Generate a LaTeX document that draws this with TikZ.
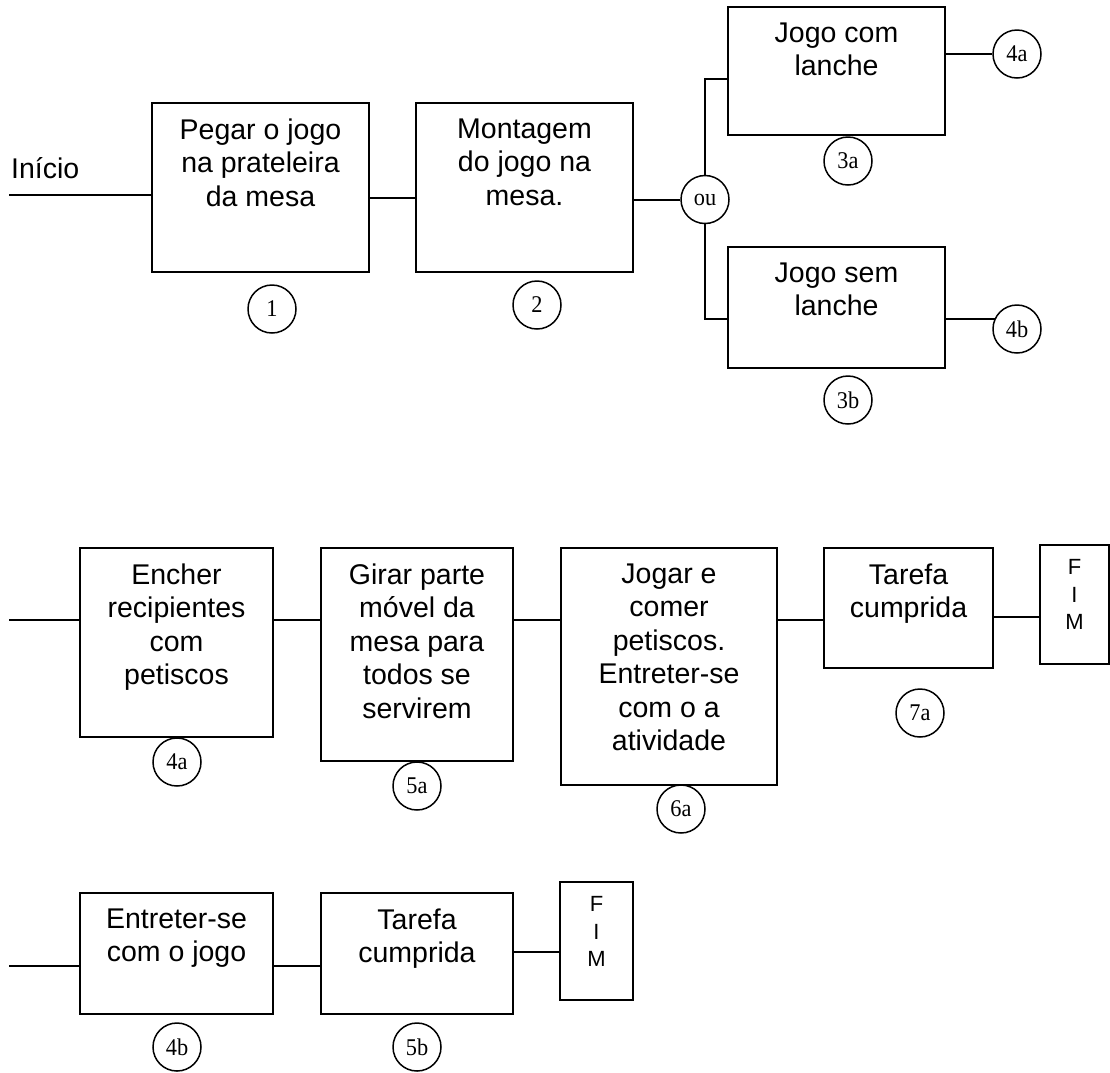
\documentclass[tikz,border=0pt]{standalone}
\usepackage{fontspec}
\setmainfont{Liberation Sans}
\newfontfamily\numfont[FakeStretch=0.93]{Liberation Serif}
\begin{document}
\begin{tikzpicture}[x=1pt,y=-1pt,
  box/.style={draw=black, line width=1.6pt, inner sep=0pt},
  boxtext/.style={anchor=north, inner sep=0pt, align=center,
    font=\fontsize{28.5}{33.5}\selectfont},
  fimtext/.style={anchor=north, inner sep=0pt, align=center,
    font=\fontsize{22}{27.5}\selectfont},
  tag/.style={circle, draw, line width=1.5pt, minimum size=48pt, inner sep=0pt,
    font=\numfont\fontsize{24}{24}\selectfont},
  link/.style={line width=2pt}
]
\useasboundingbox (0,0) rectangle (1110,1072);

% ---------- first flow: start, two steps and the branch ----------
\node[anchor=base west, inner sep=0pt, font=\fontsize{28.5}{33.5}\selectfont] (inicio) at (11,178) {Início};

\node[box, minimum width=217pt, minimum height=169pt] (b1) at (260.5,187.5) {};
\node[boxtext] (t1) at ([yshift=-16pt]b1.north) {Pegar o jogo\\na prateleira\\da mesa};
\node[tag] (c1) at (272,309) {1};

\node[box, minimum width=217pt, minimum height=169pt] (b2) at (524.5,187.5) {};
\node[boxtext] (t2) at ([yshift=-16pt]b2.north) {Montagem\\do jogo na\\mesa.};
\node[tag] (c2) at (537,305) {2};

\node[tag] (ou) at (705,199.5) {ou};

\node[box, minimum width=217pt, minimum height=128pt] (b3a) at (836.5,71) {};
\node[boxtext] (t3a) at ([yshift=-16pt]b3a.north) {Jogo com\\lanche};
\node[tag] (c3a) at (848,161) {3a};
\node[tag] (r4a) at (1017,54) {4a};

\node[box, minimum width=217pt, minimum height=121pt] (b3b) at (836.5,307.5) {};
\node[boxtext] (t3b) at ([yshift=-16pt]b3b.north) {Jogo sem\\lanche};
\node[tag] (c3b) at (848,400) {3b};
\node[tag] (r4b) at (1017,329) {4b};

\coordinate (s1) at (9,195);
\coordinate (m12) at (0,198);
\coordinate (j3a) at (705,79);
\coordinate (j3b) at (705,319);
\draw[link] (s1) -- (s1 -| b1.west);
\draw[link] (b1.east |- m12) -- (b2.west |- m12);
\draw[link] (b2.east |- ou) -- (ou.west);
\draw[link] (ou.north) -- (j3a) -- (j3a -| b3a.west);
\draw[link] (ou.south) -- (j3b) -- (j3b -| b3b.west);
\draw[link] (b3a.east |- r4a) -- (r4a.west);
\draw[link] (b3b.east |- r4b.155) -- (r4b.155);

% ---------- branch 4a ----------
\node[box, minimum width=193pt, minimum height=189pt] (b4a) at (176.5,642.5) {};
\node[boxtext] (t4a) at ([yshift=-16pt]b4a.north) {Encher\\recipientes\\com\\petiscos};
\node[tag] (c4a) at (177,762) {4a};

\node[box, minimum width=192pt, minimum height=213pt] (b5a) at (417,654.5) {};
\node[boxtext] (t5a) at ([yshift=-16pt]b5a.north) {Girar parte\\móvel da\\mesa para\\todos se\\servirem};
\node[tag] (c5a) at (417,786) {5a};

\node[box, minimum width=216pt, minimum height=237pt] (b6a) at (669,666.5) {};
\node[boxtext] (t6a) at ([yshift=-16pt]b6a.north) {Jogar e\\comer\\petiscos.\\Entreter-se\\com o a\\atividade};
\node[tag] (c6a) at (681,809) {6a};

\node[box, minimum width=169pt, minimum height=120pt] (b7a) at (908.5,608) {};
\node[boxtext] (t7a) at ([yshift=-16pt]b7a.north) {Tarefa\\cumprida};
\node[tag] (c7a) at (920,713) {7a};

\node[box, minimum width=69pt, minimum height=119pt] (fim1) at (1074.5,604.5) {};
\node[fimtext] (tf1) at ([yshift=-15pt]fim1.north) {F\\I\\M};

\coordinate (s2) at (9,620);
\coordinate (m7) at (0,617);
\draw[link] (s2) -- (s2 -| b4a.west);
\draw[link] (b4a.east |- s2) -- (b5a.west |- s2);
\draw[link] (b5a.east |- s2) -- (b6a.west |- s2);
\draw[link] (b6a.east |- s2) -- (b7a.west |- s2);
\draw[link] (b7a.east |- m7) -- (fim1.west |- m7);

% ---------- branch 4b ----------
\node[box, minimum width=193pt, minimum height=121pt] (b4b) at (176.5,953.5) {};
\node[boxtext] (t4b) at ([yshift=-16pt]b4b.north) {Entreter-se\\com o jogo};
\node[tag] (c4b) at (177,1047) {4b};

\node[box, minimum width=192pt, minimum height=121pt] (b5b) at (417,953.5) {};
\node[boxtext] (t5b) at ([yshift=-16pt]b5b.north) {Tarefa\\cumprida};
\node[tag] (c5b) at (417,1047) {5b};

\node[box, minimum width=73pt, minimum height=118pt] (fim2) at (596.5,941) {};
\node[fimtext] (tf2) at ([yshift=-15pt]fim2.north) {F\\I\\M};

\coordinate (s3) at (9,966);
\coordinate (m5b) at (0,952);
\draw[link] (s3) -- (s3 -| b4b.west);
\draw[link] (b4b.east |- s3) -- (b5b.west |- s3);
\draw[link] (b5b.east |- m5b) -- (fim2.west |- m5b);
\end{tikzpicture}
\end{document}
